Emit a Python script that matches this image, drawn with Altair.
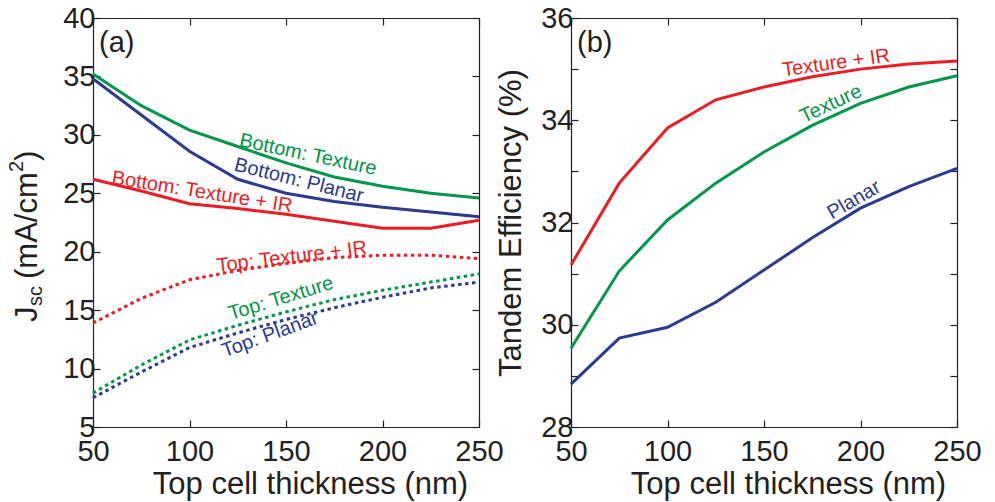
import altair as alt
import pandas as pd

# ---------------- data ----------------
thickness = [50, 75, 100, 125, 150, 175, 200, 225, 250]

bottom_texture = [35.2, 32.5, 30.4, 29.0, 27.6, 26.4, 25.6, 25.0, 24.6]
bottom_planar = [34.8, 31.7, 28.6, 26.2, 25.0, 24.3, 23.8, 23.4, 23.0]
bottom_texture_ir = [26.2, 25.2, 24.1, 23.7, 23.2, 22.6, 22.0, 22.0, 22.7]
top_texture_ir = [13.9, 16.0, 17.6, 18.4, 19.0, 19.5, 19.7, 19.7, 19.4]
top_texture = [7.9, 10.3, 12.45, 13.7, 14.85, 15.9, 16.7, 17.4, 18.1]
top_planar = [7.5, 9.7, 11.8, 13.05, 14.2, 15.2, 16.1, 16.9, 17.4]

eff_texture_ir = [31.17, 32.77, 33.85, 34.4, 34.65, 34.85, 35.0, 35.1, 35.16]
eff_texture = [29.54, 31.05, 32.05, 32.77, 33.38, 33.9, 34.33, 34.65, 34.87]
eff_planar = [28.84, 29.74, 29.95, 30.44, 31.07, 31.7, 32.28, 32.7, 33.06]

series_names = ["Texture", "Planar", "Texture + IR"]

x_ticks = [50, 100, 150, 200, 250]
jsc_ticks = [5, 10, 15, 20, 25, 30, 35, 40]
eff_ticks = [28, 29, 30, 31, 32, 33, 34, 35, 36]

labels_a_text = ["Bottom: Texture", "Bottom: Planar", "Bottom: Texture + IR",
                 "Top: Texture + IR", "Top: Texture", "Top: Planar"]
labels_a_series = ["Texture", "Planar", "Texture + IR", "Texture + IR", "Texture", "Planar"]
labels_a_x = [161.4, 156.7, 106.5, 153.0, 147.4, 141.7]
labels_a_y = [28.3, 26.1, 25.1, 19.55, 16.0, 12.9]
labels_a_angle = [12, 14, 9, 353, 343, 340]

labels_b_text = ["Texture + IR", "Texture", "Planar"]
labels_b_series = ["Texture + IR", "Texture", "Planar"]
labels_b_x = [187.3, 184.7, 196.6]
labels_b_y = [35.12, 34.32, 32.44]
labels_b_angle = [352, 335, 330]

# ---------------- styling ----------------
GREEN = "#00964b"
BLUE = "#2b3990"
RED = "#ed1c24"
INK = "#231f20"
FONT = "Liberation Sans"
W, H = 386, 409
TICK_IN = {"expr": "-7"}


def long_table(cols, kind):
    rows = []
    for name, vals in zip(series_names, cols):
        for xv, yv in zip(thickness, vals):
            rows.append({"x": xv, "y": yv, "series": name, "kind": kind})
    return rows


df_bottom = pd.DataFrame(long_table([bottom_texture, bottom_planar, bottom_texture_ir], "bottom"))
df_top = pd.DataFrame(long_table([top_texture, top_planar, top_texture_ir], "top"))
df_eff = pd.DataFrame(long_table([eff_texture, eff_planar, eff_texture_ir], "eff"))

df_lab_a = pd.DataFrame({"text": labels_a_text, "series": labels_a_series,
                         "x": labels_a_x, "y": labels_a_y, "angle": labels_a_angle})
df_lab_b = pd.DataFrame({"text": labels_b_text, "series": labels_b_series,
                         "x": labels_b_x, "y": labels_b_y, "angle": labels_b_angle})

color = alt.Color("series:N", scale=alt.Scale(domain=series_names, range=[GREEN, BLUE, RED]), legend=None)
xscale = alt.Scale(domain=[50, 250], nice=False, zero=False)
ya_scale = alt.Scale(domain=[5, 40], nice=False, zero=False)
yb_scale = alt.Scale(domain=[28, 36], nice=False, zero=False)

x_main_axis = alt.Axis(values=x_ticks, tickSize=TICK_IN, labelPadding=17, grid=False,
                       title="Top cell thickness (nm)", titlePadding=3, titleX=217,
                       labelFlush=False)
x_top_axis = alt.Axis(orient="top", values=x_ticks, tickSize=TICK_IN, labels=False,
                      grid=False, title=None)

# ---------------- panel (a) ----------------
a_bottom = alt.Chart(df_bottom).mark_line(strokeWidth=3).encode(
    x=alt.X("x:Q", scale=xscale, axis=x_main_axis),
    y=alt.Y("y:Q", scale=ya_scale,
            axis=alt.Axis(values=jsc_ticks, tickSize=TICK_IN, labelPadding=5, grid=False, title=None)),
    color=color,
    detail="series:N",
)
a_top = alt.Chart(df_top).mark_line(strokeWidth=3, strokeDash=[3.5, 3.5]).encode(
    x=alt.X("x:Q", scale=xscale, axis=x_top_axis),
    y=alt.Y("y:Q", scale=ya_scale,
            axis=alt.Axis(orient="right", values=jsc_ticks, tickSize=TICK_IN, labels=False,
                          grid=False, title=None)),
    color=color,
    detail="series:N",
)
a_labels = alt.Chart(df_lab_a).mark_text(fontSize=20, font=FONT).encode(
    x=alt.X("x:Q", scale=xscale, axis=None),
    y=alt.Y("y:Q", scale=ya_scale, axis=None),
    text="text:N",
    angle=alt.Angle("angle:Q", scale=None),
    color=color,
)
one = alt.Data(values=[{}])
a_tag = alt.Chart(one).mark_text(text="(a)", fontSize=29, font=FONT, align="left",
                                 baseline="middle", color=INK).encode(
    x=alt.value(6), y=alt.value(25))


def rot(txt, size, bx, by):
    return alt.Chart(one).mark_text(text=txt, fontSize=size, font=FONT, angle=270,
                                    align="left", baseline="alphabetic", color=INK).encode(
        x=alt.value(bx), y=alt.value(by))


a_ytitle = [
    rot("J", 31, -56, 304),
    rot("sc", 20, -51, 288),
    rot("(mA/cm", 31, -56, 261),
    rot("2", 20, -70, 154),
    rot(")", 31, -56, 143),
]

panel_a = alt.layer(a_bottom, a_top, a_labels, a_tag, *a_ytitle).resolve_axis(
    x="independent", y="independent").properties(width=W, height=H)

# ---------------- panel (b) ----------------
df_eff_main = df_eff[df_eff["series"] != "Texture + IR"]
df_eff_ir = df_eff[df_eff["series"] == "Texture + IR"]

b_main = alt.Chart(df_eff_main).mark_line(strokeWidth=3).encode(
    x=alt.X("x:Q", scale=xscale, axis=x_main_axis),
    y=alt.Y("y:Q", scale=yb_scale,
            axis=alt.Axis(values=eff_ticks, tickSize=TICK_IN, labelPadding=5, grid=False,
                          labelExpr="datum.value % 2 == 0 ? datum.label : ''",
                          title="Tandem Efficiency (%)", titlePadding=13)),
    color=color,
    detail="series:N",
)
b_ir = alt.Chart(df_eff_ir).mark_line(strokeWidth=3).encode(
    x=alt.X("x:Q", scale=xscale, axis=x_top_axis),
    y=alt.Y("y:Q", scale=yb_scale,
            axis=alt.Axis(orient="right", values=eff_ticks, tickSize=TICK_IN, labels=False,
                          grid=False, title=None)),
    color=color,
    detail="series:N",
)
b_labels = alt.Chart(df_lab_b).mark_text(fontSize=20, font=FONT).encode(
    x=alt.X("x:Q", scale=xscale, axis=None),
    y=alt.Y("y:Q", scale=yb_scale, axis=None),
    text="text:N",
    angle=alt.Angle("angle:Q", scale=None),
    color=color,
)
b_tag = alt.Chart(one).mark_text(text="(b)", fontSize=29, font=FONT, align="left",
                                 baseline="middle", color=INK).encode(
    x=alt.value(6), y=alt.value(25))

panel_b = alt.layer(b_main, b_ir, b_labels, b_tag).resolve_axis(
    x="independent", y="independent").properties(width=W, height=H)

chart = alt.hconcat(panel_a, panel_b, spacing=92, bounds="flush").properties(
    padding={"left": 7, "top": 4, "right": 5, "bottom": 5},
    background="white",
).configure_view(stroke=None).configure_axis(
    labelFont=FONT, titleFont=FONT, labelFontSize=29, titleFontSize=31,
    labelColor=INK, titleColor=INK, titleFontWeight="normal",
    domainColor=INK, tickColor=INK, domainWidth=1.2, tickWidth=1.2,
)

chart.save("out.html", embed_options={"renderer": "svg", "actions": False})
